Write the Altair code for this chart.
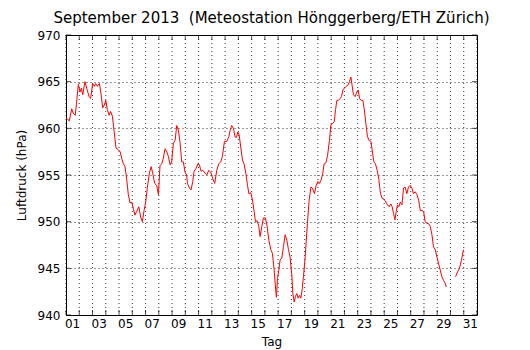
import altair as alt
import pandas as pd

# fractional day since 1 Sep 2013 00:00, air pressure (hPa)
t_days = [
    0.00, 0.10, 0.25, 0.43, 0.55, 0.70, 0.80, 0.93, 1.06, 1.16, 1.26, 1.43, 1.56, 1.74, 1.86,
    2.01, 2.14, 2.24, 2.37, 2.52, 2.64, 2.77, 2.89, 3.00, 3.12, 3.25, 3.37, 3.50, 3.62, 3.77,
    3.95, 4.08, 4.20, 4.33, 4.45, 4.58, 4.70, 4.83, 4.96, 5.08, 5.20, 5.33, 5.49, 5.63, 5.76,
    5.89, 6.01, 6.14, 6.29, 6.42, 6.54, 6.69, 6.84, 6.97, 7.09, 7.22, 7.34, 7.47, 7.60, 7.72,
    7.85, 7.97, 8.10, 8.23, 8.35, 8.48, 8.60, 8.73, 8.85, 8.98, 9.10, 9.16, 9.31, 9.43, 9.56,
    9.66, 9.81, 9.94, 10.06, 10.19, 10.32, 10.49, 10.62, 10.77, 10.92, 11.07, 11.22, 11.37,
    11.52, 11.67, 11.80, 11.95, 12.13, 12.28, 12.38, 12.50, 12.63, 12.75, 12.85, 12.96, 13.06,
    13.18, 13.31, 13.43, 13.56, 13.69, 13.79, 13.94, 14.09, 14.19, 14.29, 14.42, 14.54, 14.64,
    14.77, 14.89, 15.04, 15.17, 15.30, 15.45, 15.57, 15.70, 15.80, 15.87, 15.95, 16.05, 16.15,
    16.28, 16.40, 16.53, 16.66, 16.78, 16.90, 17.03, 17.11, 17.21, 17.31, 17.41, 17.51, 17.61,
    17.71, 17.81, 17.91, 18.04, 18.11, 18.21, 18.34, 18.47, 18.59, 18.74, 18.87, 19.00, 19.12,
    19.25, 19.37, 19.47, 19.60, 19.72, 19.87, 19.98, 20.10, 20.23, 20.33, 20.43, 20.55, 20.68,
    20.78, 20.88, 21.00, 21.13, 21.26, 21.38, 21.49, 21.58, 21.68, 21.81, 21.94, 22.04, 22.14,
    22.26, 22.39, 22.49, 22.62, 22.74, 22.87, 23.00, 23.09, 23.22, 23.34, 23.47, 23.60, 23.72,
    23.85, 24.00, 24.13, 24.25, 24.38, 24.50, 24.60, 24.70, 24.81, 24.91, 25.00, 25.11, 25.21,
    25.34, 25.46, 25.58, 25.71, 25.83, 25.96, 26.09, 26.21, 26.34, 26.47, 26.60, 26.72, 26.85,
    26.97, 27.09, 27.22, 27.34, 27.47, 27.60, 27.72, 27.85, 27.98, 28.10, 28.23, 28.35, 28.48,
    28.60, 28.68,
    29.38, 29.53, 29.68, 29.83, 29.98,
]
pressure = [
    961.1, 961.0, 960.8, 962.1, 961.6, 961.4, 962.8, 964.7, 963.9, 964.3, 963.6, 965.0, 964.3, 963.4, 963.2,
    964.8, 964.5, 964.8, 964.5, 964.8, 963.7, 962.2, 962.5, 963.0, 962.0, 961.4, 961.8, 961.3, 959.8, 957.9,
    957.7, 957.5, 956.8, 956.2, 955.9, 954.5, 952.9, 952.0, 952.1, 951.4, 950.7, 951.1, 951.6, 950.5, 950.0,
    951.2, 952.1, 953.7, 955.2, 955.9, 955.2, 954.1, 953.9, 952.9, 956.0, 956.2, 956.8, 957.8, 957.5, 957.0,
    956.1, 956.4, 958.4, 958.7, 960.3, 959.8, 958.5, 956.4, 956.4, 955.3, 955.0, 954.1, 953.6, 953.4, 954.3,
    955.4, 955.7, 956.2, 956.1, 955.4, 955.5, 955.2, 955.0, 955.5, 955.3, 954.6, 954.1, 955.5,
    956.2, 956.4, 957.0, 958.6, 958.6, 959.1, 959.8, 960.3, 960.0, 959.1, 959.0, 959.6, 959.3,
    958.0, 956.6, 956.2, 955.2, 953.9, 953.0, 953.1, 952.1, 951.1, 950.0, 950.1, 949.5, 948.4,
    949.5, 950.4, 950.4, 949.5, 948.0, 947.0, 946.6, 944.8, 943.0, 941.9, 943.9, 944.8, 945.9,
    946.1, 947.3, 948.6, 948.0, 947.0, 946.2, 944.3, 942.3, 941.4, 942.0, 942.3, 941.8, 942.1,
    941.8, 942.7, 944.1, 946.2, 947.7, 949.8, 952.3, 953.7, 953.6, 953.0, 953.9, 954.3, 954.1,
    954.5, 955.2, 956.2, 956.3, 957.0, 958.7, 960.4, 960.5, 960.7, 962.0, 963.0, 963.0, 963.2,
    963.4, 964.1, 964.3, 964.5, 964.6, 965.0, 965.5, 964.6, 963.6, 963.4, 963.9, 964.1, 963.2,
    963.0, 963.0, 962.1, 960.5, 959.1, 958.7, 958.6, 957.7, 956.4, 956.2, 955.5, 954.5, 953.0,
    952.5, 952.4, 952.1, 951.8, 951.6, 951.9, 951.6, 950.9, 950.2, 951.1, 951.8, 951.6, 952.1,
    951.8, 953.6, 953.7, 953.0, 953.7, 953.9, 953.6, 953.0, 953.2, 952.9, 952.3, 951.2, 951.2,
    951.1, 950.0, 949.8, 949.8, 949.5, 948.6, 947.3, 947.0, 946.2, 945.5, 944.8, 944.1, 943.7,
    943.4, 943.0,
    944.1, 944.6, 945.0, 945.9, 947.0,
]
gap_after = 29.0  # missing data between ~28.7 and ~29.4

day_ticks = list(range(0, 32))            # day boundaries (ticks + vertical grid)
day_labels = ["01", "03", "05", "07", "09", "11", "13", "15",
              "17", "19", "21", "23", "25", "27", "29", "31"]
p_ticks = [940, 945, 950, 955, 960, 965, 970]

df = pd.DataFrame({"t": t_days, "p": pressure})
df["seg"] = (df["t"] > gap_after).astype(int)

# labels centred in the middle of their day
ldf = pd.DataFrame({"lab": day_labels})
ldf["tc"] = ldf["lab"].astype(int) - 0.5

FONT = "DejaVu Sans"
xscale = alt.Scale(domain=[0, 31], nice=False, zero=False)
yscale = alt.Scale(domain=[940, 970], nice=False, zero=False)

x_axis = alt.Axis(values=day_ticks, grid=False, ticks=False, domain=False, labels=False,
                  titlePadding=21)
y_axis = alt.Axis(values=p_ticks, grid=True, ticks=False, domain=False,
                  labelPadding=6, titlePadding=9)

tdf = pd.DataFrame({"t": day_ticks})
pdf = pd.DataFrame({"p": p_ticks})

vgrid = alt.Chart(tdf).mark_rule(color="black", strokeWidth=1, strokeDash=[1, 3], opacity=0.8).encode(
    x=alt.X("t:Q", scale=xscale, title="Tag", axis=x_axis))

line = alt.Chart(df).mark_line(color="#ff0000", strokeWidth=1).encode(
    x=alt.X("t:Q", scale=xscale, title="Tag", axis=x_axis),
    y=alt.Y("p:Q", scale=yscale, title="Luftdruck (hPa)", axis=y_axis),
    detail="seg:N",
)

xlabels = alt.Chart(ldf).mark_text(font=FONT, fontSize=12, color="black", baseline="top",
                                   align="center", dy=4).encode(
    x=alt.X("tc:Q", scale=xscale, title="Tag", axis=x_axis), y=alt.datum(940), text="lab:N")

bottom = alt.Chart(tdf).mark_tick(orient="vertical", color="black", size=5, thickness=1, yOffset=-2.5).encode(
    x=alt.X("t:Q", scale=xscale, title="Tag", axis=x_axis), y=alt.datum(940))
top = alt.Chart(tdf).mark_tick(orient="vertical", color="black", size=5, thickness=1, yOffset=2.5).encode(
    x=alt.X("t:Q", scale=xscale, title="Tag", axis=x_axis), y=alt.datum(970))
left = alt.Chart(pdf).mark_tick(orient="horizontal", color="black", size=5, thickness=1, xOffset=2.5).encode(
    y=alt.Y("p:Q", scale=yscale, title="Luftdruck (hPa)", axis=y_axis), x=alt.datum(0))
right = alt.Chart(pdf).mark_tick(orient="horizontal", color="black", size=5, thickness=1, xOffset=-2.5).encode(
    y=alt.Y("p:Q", scale=yscale, title="Luftdruck (hPa)", axis=y_axis), x=alt.datum(31))

chart = alt.layer(vgrid, line, bottom, top, left, right, xlabels).properties(
    width=411, height=280,
    background="white",
    title=alt.TitleParams("September 2013\u00a0 (Meteostation Hönggerberg/ETH Zürich)",
                          font=FONT, fontSize=15, fontWeight="normal", color="black",
                          anchor="middle", offset=3),
    autosize=alt.AutoSizeParams(type="none"),
    padding={"left": 58, "top": 27, "right": 30, "bottom": 35},
).configure_view(stroke="black", strokeWidth=1, clip=False).configure_axis(
    labelFont=FONT, titleFont=FONT, labelFontSize=12, titleFontSize=12,
    labelColor="black", titleColor="black", titleFontWeight="normal",
    gridColor="black", gridDash=[1, 3], gridWidth=1, gridOpacity=0.8,
)

chart.save("out.html", embed_options={"renderer": "svg", "actions": False})
